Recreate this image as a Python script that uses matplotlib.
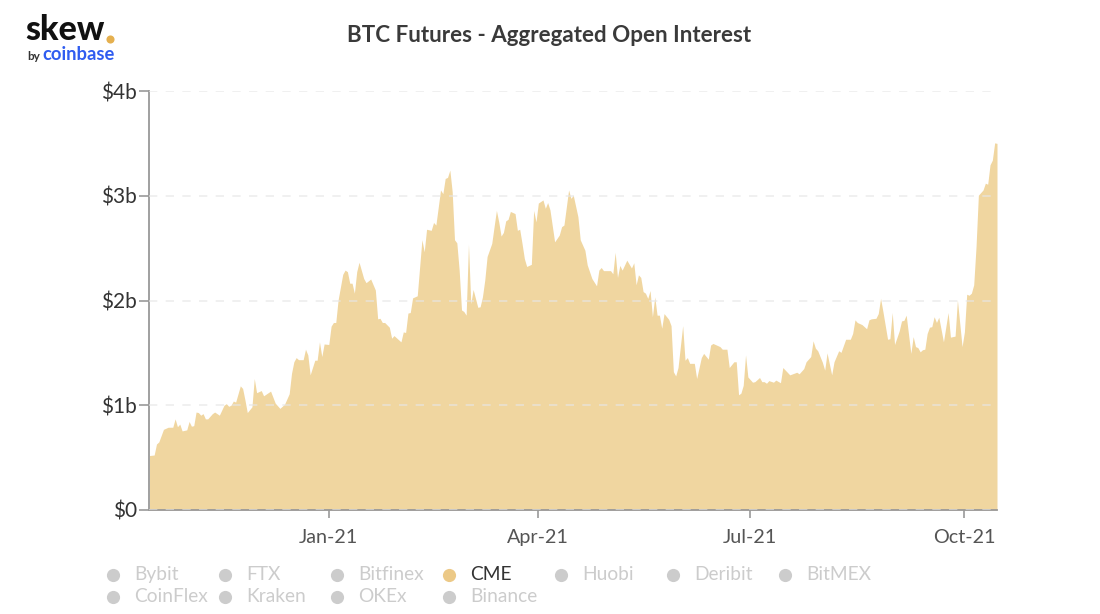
import matplotlib
matplotlib.use('Agg')
import matplotlib.pyplot as plt
import pandas as pd

plt.rcParams['font.family'] = ['Lato', 'DejaVu Sans']

# days since the first data point, open interest in $b
start_date = '2020-10-16'
days = [0, 2, 3, 4, 6, 8, 10, 11, 12, 13, 14, 16, 17, 18, 19, 20, 21, 22, 23, 24, 25, 27, 28, 30,
        32, 33, 34, 35, 36, 37, 39, 40, 41, 42, 44, 45, 46, 48, 49, 52, 54, 56, 58, 60, 61, 62, 63, 64,
        66, 67, 68, 69, 71, 72, 73, 74, 75, 77, 78, 79, 80, 81, 83, 84, 85, 86, 87, 88, 89, 90, 92, 93,
        95, 97, 98, 99, 100, 101, 103, 104, 105, 108, 109, 110, 111, 112, 113, 115,
        117, 118, 119, 121, 122, 123, 125, 126, 127, 128, 129, 130, 131, 132, 133, 134, 135, 136, 137, 138, 139,
        141, 142, 143, 144, 145, 147, 148, 149, 150, 151, 152, 153, 154, 155, 157, 158, 159, 160, 161, 162,
        164, 165, 166, 167, 169, 170, 171, 172, 174, 176, 177, 178, 180, 181, 182, 184, 185, 187, 188, 190,
        192, 193, 194, 195, 198, 199, 200, 201, 202, 203, 205, 207, 208, 209, 210, 211, 212, 213, 214, 215,
        216, 217, 218, 219, 220, 221, 223, 224, 225, 226, 227, 229, 230, 231, 232, 234, 235, 237, 238,
        240, 241, 242, 245, 246, 248, 249, 251, 252, 253, 254, 255, 256, 257, 259, 260, 262, 263, 264, 265,
        266, 268, 269, 271, 272, 275, 278, 279, 281, 282, 284, 285, 286, 287, 289, 290, 291, 293, 294, 296,
        297, 299, 301, 302, 303, 304, 306, 308, 309, 310, 312, 313, 314, 315, 317, 318, 319, 320, 322, 323,
        324, 325, 327, 328, 329, 330, 331, 332, 333, 334, 335, 336, 337, 338, 339, 341, 343, 344, 346, 347,
        349, 350, 351, 352, 353, 354, 355, 356, 358, 359, 360, 361, 362, 363, 364]
open_interest = [.52, .525, .63, .65, .77, .79, .79, .87, .795, .82, .755, .765, .845, .80, .805, .935, .93, .905, .92, .87, .87, .92, .935, .905,
                 1.00, 1.015, .99, 1.0, 1.04, 1.03, 1.185, 1.16, 1.05, .93, .985, 1.255, 1.12, 1.14, 1.09, 1.135, 1.02, .97, 1.01, 1.11, 1.305, 1.415, 1.455, 1.435,
                 1.435, 1.535, 1.48, 1.29, 1.43, 1.43, 1.605, 1.465, 1.585, 1.58, 1.755, 1.79, 1.79, 2.005, 2.25, 2.29, 2.275, 2.165, 2.165, 2.07, 2.275, 2.365, 2.21, 2.17,
                 2.205, 2.10, 1.825, 1.83, 1.79, 1.79, 1.745, 1.64, 1.665, 1.605, 1.70, 1.695, 1.88, 1.885, 2.025, 2.045,
                 2.58, 2.465, 2.68, 2.67, 2.745, 2.72, 3.055, 3.02, 3.165, 3.175, 3.245, 3.04, 2.58, 2.55, 2.29, 1.91, 1.895, 1.86, 2.535, 1.97, 2.105,
                 1.935, 1.94, 2.035, 2.195, 2.42, 2.545, 2.705, 2.86, 2.75, 2.615, 2.65, 2.76, 2.775, 2.85, 2.83, 2.67, 2.68, 2.545, 2.40, 2.325,
                 2.345, 2.86, 2.75, 2.93, 2.96, 2.88, 2.935, 2.865, 2.56, 2.625, 2.705, 2.72, 3.055, 2.975, 3.005, 2.80, 2.58, 2.48, 2.34, 2.21,
                 2.14, 2.29, 2.315, 2.285, 2.285, 2.255, 2.46, 2.22, 2.335, 2.29, 2.385, 2.31, 2.36, 2.15, 2.245, 2.22, 2.085, 2.07, 2.02, 2.095,
                 1.845, 2.035, 1.86, 1.86, 1.735, 1.875, 1.82, 1.76, 1.32, 1.28, 1.36, 1.76, 1.43, 1.455, 1.40, 1.40, 1.255, 1.455, 1.495,
                 1.44, 1.575, 1.59, 1.56, 1.535, 1.535, 1.36, 1.415, 1.415, 1.10, 1.115, 1.19, 1.48, 1.27, 1.22, 1.225, 1.265, 1.225, 1.225, 1.21,
                 1.235, 1.22, 1.24, 1.215, 1.36, 1.29, 1.315, 1.30, 1.35, 1.415, 1.465, 1.615, 1.545, 1.52, 1.41, 1.335, 1.50, 1.29, 1.415, 1.52,
                 1.505, 1.63, 1.63, 1.685, 1.815, 1.79, 1.77, 1.73, 1.815, 1.825, 1.83, 1.875, 2.02, 1.895, 1.63, 1.635, 1.885, 1.58, 1.71, 1.805,
                 1.81, 1.86, 1.495, 1.655, 1.56, 1.55, 1.51, 1.53, 1.535, 1.685, 1.745, 1.75, 1.845, 1.79, 1.84, 1.605, 1.885, 1.65, 1.66, 2.005,
                 1.56, 1.70, 2.06, 2.05, 2.07, 2.15, 2.515, 3.005, 3.055, 3.12, 3.11, 3.295, 3.34, 3.505, 3.50]

y_ticks = [0, 1, 2, 3, 4]
y_labels = ['$0', '$1b', '$2b', '$3b', '$4b']
x_ticks = ['2021-01-01', '2021-04-01', '2021-07-01', '2021-10-01']
x_labels = ['Jan-21', 'Apr-21', 'Jul-21', 'Oct-21']

legend_row1 = ['Bybit', 'FTX', 'Bitfinex', 'CME', 'Huobi', 'Deribit', 'BitMEX']
legend_row2 = ['CoinFlex', 'Kraken', 'OKEx', 'Binance']

W, H = 1100, 614
fig = plt.figure(figsize=(W / 100, H / 100), dpi=100)

# overlay in pixel coordinates for the logo, title and legend
overlay = fig.add_axes([0, 0, 1, 1])
overlay.set_xlim(0, W)
overlay.set_ylim(H, 0)
overlay.axis('off')

ax = fig.add_axes([149.5 / W, 1 - 510 / H, (997 - 149.5) / W, (510 - 91) / H])
ax.patch.set_alpha(0)

dates = pd.Timestamp(start_date) + pd.to_timedelta(days, unit='D')
ax.fill_between(dates, open_interest, 0, color='#f0d6a0', linewidth=0, zorder=2)
ax.set_xlim(dates[0], dates[-1])
ax.set_ylim(0, 4)

# dashed grid stays faintly visible on top of the area
ax.grid(axis='y', color='#e6e6e6', linestyle=(0, (5, 5)), linewidth=1.2, alpha=0.7, zorder=3)
ax.set_axisbelow(False)

ax.set_yticks(y_ticks)
ax.set_yticklabels(y_labels, fontsize=15, color='#333333')
ax.set_xticks(pd.to_datetime(x_ticks))
ax.set_xticklabels(x_labels, fontsize=14.2, color='#555555')
ax.tick_params(axis='y', length=7, width=1.2, color='#999999', pad=2)
ax.tick_params(axis='x', length=6, width=1.2, color='#999999', pad=8)

for side in ['top', 'right']:
    ax.spines[side].set_visible(False)
for side in ['left', 'bottom']:
    ax.spines[side].set_color('#999999')
    ax.spines[side].set_linewidth(1.3)

overlay.text(549.5, 36, 'BTC Futures - Aggregated Open Interest', fontsize=16.1, fontweight='bold',
             color='#3a3a3a', ha='center', va='center')

# logo
overlay.text(25.5, 29.5, 'skew', fontsize=24.5, fontweight='black', color='#111111', ha='left', va='center')
overlay.scatter([110], [38.5], s=34, color='#e5b04f', linewidth=0)
overlay.text(27, 56, 'by', fontsize=8.5, fontweight='bold', color='#333333', ha='left', va='center')
overlay.text(42.5, 55, 'coinbase', fontsize=13.2, fontweight='bold', color='#2f5cf0', ha='left', va='center')

# legend, only CME is active
legend_x = [113, 225, 337, 449, 561, 673, 785]
for row, labels in zip([573, 595], [legend_row1, legend_row2]):
    for x, label in zip(legend_x, labels):
        active = label == 'CME'
        overlay.scatter([x], [row + 2], s=90, color='#ecc987' if active else '#cccccc', linewidth=0)
        overlay.text(x + 21.5, row + 1.5, label, fontsize=13.8, color='#333333' if active else '#cccccc',
                     ha='left', va='center')

fig.savefig('out.png', dpi=100)
